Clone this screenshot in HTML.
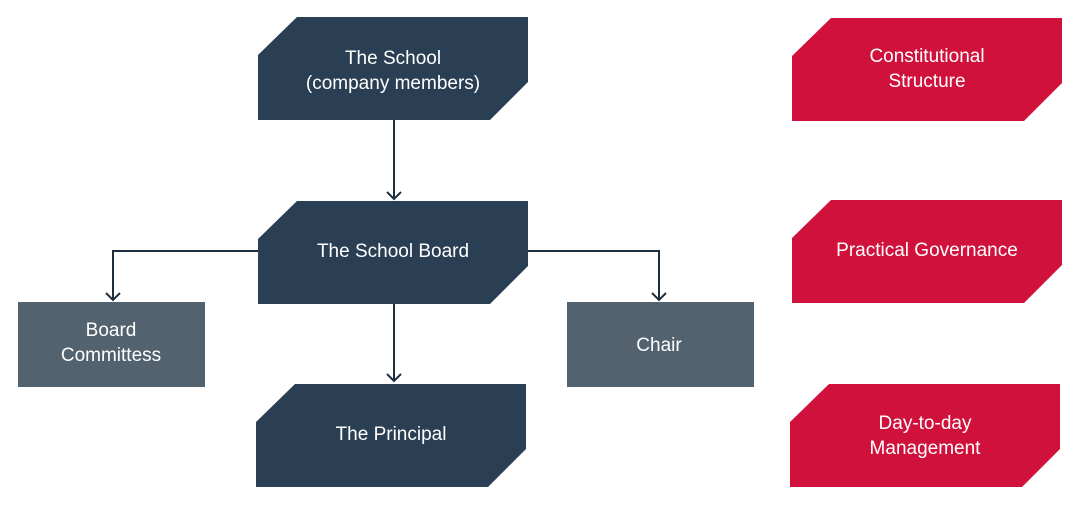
<!DOCTYPE html>
<html><head><style>
html,body{margin:0;padding:0;background:#fff;width:1086px;height:510px;overflow:hidden}
text{font-family:"Liberation Sans",sans-serif;font-size:19px;fill:#fff;text-anchor:middle}
</style></head><body>
<svg width="1086" height="510" viewBox="0 0 1086 510">
<g fill="#2a3f53">
<polygon points="297,17 528,17 528,82 490,120 258,120 258,55"/>
<polygon points="297,201 528,201 528,266 490,304 258,304 258,239"/>
<polygon points="295,384 526,384 526,449 488,487 256,487 256,422"/>
</g>
<g fill="#52636f">
<rect x="18" y="302" width="187" height="85"/>
<rect x="567" y="302" width="187" height="85"/>
</g>
<g fill="#cf113b">
<polygon points="831,18 1062,18 1062,83 1024,121 792,121 792,56"/>
<polygon points="831,200 1062,200 1062,265 1024,303 792,303 792,238"/>
<polygon points="829,384 1060,384 1060,449 1022,487 790,487 790,422"/>
</g>
<g stroke="#1e2f40" stroke-width="2" fill="none">
<line x1="394" y1="120" x2="394" y2="199"/>
<polyline points="387,192 394,199 401,192"/>
<polyline points="258,251 113,251 113,300"/>
<polyline points="106,293 113,300 120,293"/>
<polyline points="528,251 659,251 659,300"/>
<polyline points="652,293 659,300 666,293"/>
<line x1="394" y1="304" x2="394" y2="381"/>
<polyline points="387,374 394,381 401,374"/>
</g>
<text x="393" y="64">The School</text>
<text x="393" y="89">(company members)</text>
<text x="393" y="257">The School Board</text>
<text x="391" y="440">The Principal</text>
<text x="111" y="336">Board</text>
<text x="111" y="361">Committess</text>
<text x="659" y="351">Chair</text>
<text x="927" y="62">Constitutional</text>
<text x="927" y="87">Structure</text>
<text x="927" y="256">Practical Governance</text>
<text x="925" y="429">Day-to-day</text>
<text x="925" y="454">Management</text>
</svg>
</body></html>
